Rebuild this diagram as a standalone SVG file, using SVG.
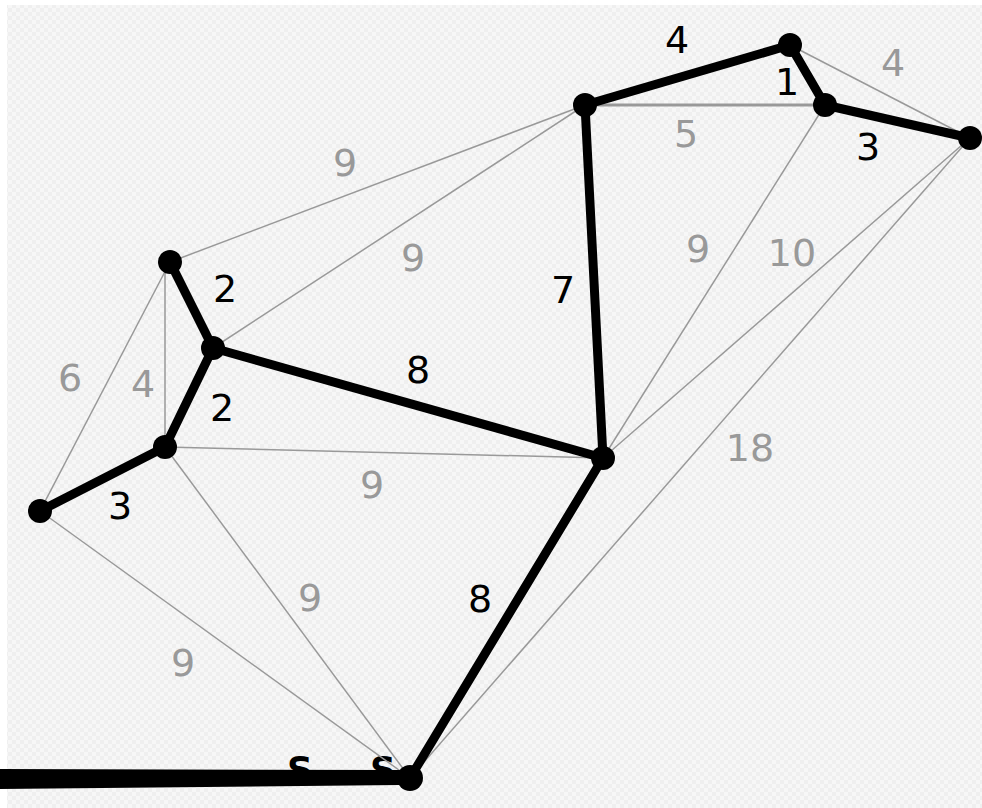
<svg xmlns="http://www.w3.org/2000/svg" width="982" height="808" viewBox="0 0 982 808">
<defs>
<pattern id="chk" width="8" height="8" patternUnits="userSpaceOnUse">
<rect width="8" height="8" fill="#f7f7f7"/>
<rect width="4" height="4" fill="#efefef"/>
<rect x="4" y="4" width="4" height="4" fill="#efefef"/>
</pattern>
<style>
.thin{stroke:#999;stroke-width:1.5;fill:none}
.thick{stroke:#000;stroke-width:9;fill:none;stroke-linecap:round}
.node circle{fill:#000}
.lg{font-family:"DejaVu Sans",sans-serif;font-size:38px;fill:#999;text-anchor:middle}
.lb{font-family:"DejaVu Sans",sans-serif;font-size:38px;fill:#000;text-anchor:middle}
.s{font-family:"DejaVu Sans",sans-serif;font-size:36px;font-weight:bold;fill:#000;text-anchor:middle}
</style>
</defs>
<rect width="982" height="808" fill="#fff"/>
<rect x="7" y="5" width="975" height="803" fill="url(#chk)"/>
<text class="s" x="300" y="782">S</text>
<text class="s" x="383" y="782">S</text>
<g id="connectors">
<line class="thin" x1="585" y1="105" x2="825" y2="105" style="stroke-width:3"/>
<line class="thin" x1="790" y1="45" x2="970" y2="138"/>
<line class="thin" x1="170" y1="262" x2="585" y2="105"/>
<line class="thin" x1="213" y1="348" x2="585" y2="105"/>
<line class="thin" x1="825" y1="105" x2="603" y2="458"/>
<line class="thin" x1="970" y1="138" x2="603" y2="458"/>
<line class="thin" x1="970" y1="138" x2="410" y2="778"/>
<line class="thin" x1="165" y1="262" x2="165" y2="447"/>
<line class="thin" x1="170" y1="262" x2="40" y2="511"/>
<line class="thin" x1="165" y1="447" x2="603" y2="458"/>
<line class="thin" x1="165" y1="447" x2="410" y2="778"/>
<line class="thin" x1="40" y1="511" x2="410" y2="778"/>
<line class="thick" x1="585" y1="105" x2="790" y2="45"/>
<line class="thick" x1="790" y1="45" x2="825" y2="105"/>
<line class="thick" x1="825" y1="105" x2="970" y2="138"/>
<line class="thick" x1="585" y1="105" x2="603" y2="458"/>
<line class="thick" x1="170" y1="262" x2="213" y2="348"/>
<line class="thick" x1="213" y1="348" x2="165" y2="447"/>
<line class="thick" x1="165" y1="447" x2="40" y2="511"/>
<line class="thick" x1="213" y1="348" x2="603" y2="458"/>
<line class="thick" x1="603" y1="458" x2="410" y2="778"/>
<path d="M0 769 L400 770 L410 778 L400 785 L0 789 Z" fill="#000"/>
</g>
<g class="node" id="nA"><circle cx="790" cy="45" r="12"/></g>
<g class="node" id="nB"><circle cx="825" cy="105" r="12"/></g>
<g class="node" id="nC"><circle cx="970" cy="138" r="12"/></g>
<g class="node" id="nD"><circle cx="585" cy="105" r="12"/></g>
<g class="node" id="nE"><circle cx="170" cy="262" r="12"/></g>
<g class="node" id="nF"><circle cx="213" cy="348" r="12"/></g>
<g class="node" id="nG"><circle cx="165" cy="447" r="12"/></g>
<g class="node" id="nH"><circle cx="40" cy="511" r="12"/></g>
<g class="node" id="nI"><circle cx="603" cy="458" r="12"/></g>
<g class="node" id="nJ"><circle cx="410" cy="778" r="13"/></g>
<g id="labels">
<text class="lb" x="677" y="53">4</text>
<text class="lb" x="787" y="95">1</text>
<text class="lg" x="893" y="76">4</text>
<text class="lg" x="686" y="147">5</text>
<text class="lb" x="868" y="160">3</text>
<text class="lg" x="345" y="176">9</text>
<text class="lg" x="413" y="271">9</text>
<text class="lg" x="698" y="262">9</text>
<text class="lg" x="792" y="266">10</text>
<text class="lb" x="563" y="303">7</text>
<text class="lb" x="225" y="302">2</text>
<text class="lg" x="70" y="391">6</text>
<text class="lg" x="143" y="397">4</text>
<text class="lb" x="418" y="383">8</text>
<text class="lb" x="222" y="421">2</text>
<text class="lg" x="750" y="461">18</text>
<text class="lg" x="372" y="498">9</text>
<text class="lb" x="120" y="519">3</text>
<text class="lb" x="480" y="612">8</text>
<text class="lg" x="310" y="611">9</text>
<text class="lg" x="183" y="676">9</text>
</g>
</svg>
